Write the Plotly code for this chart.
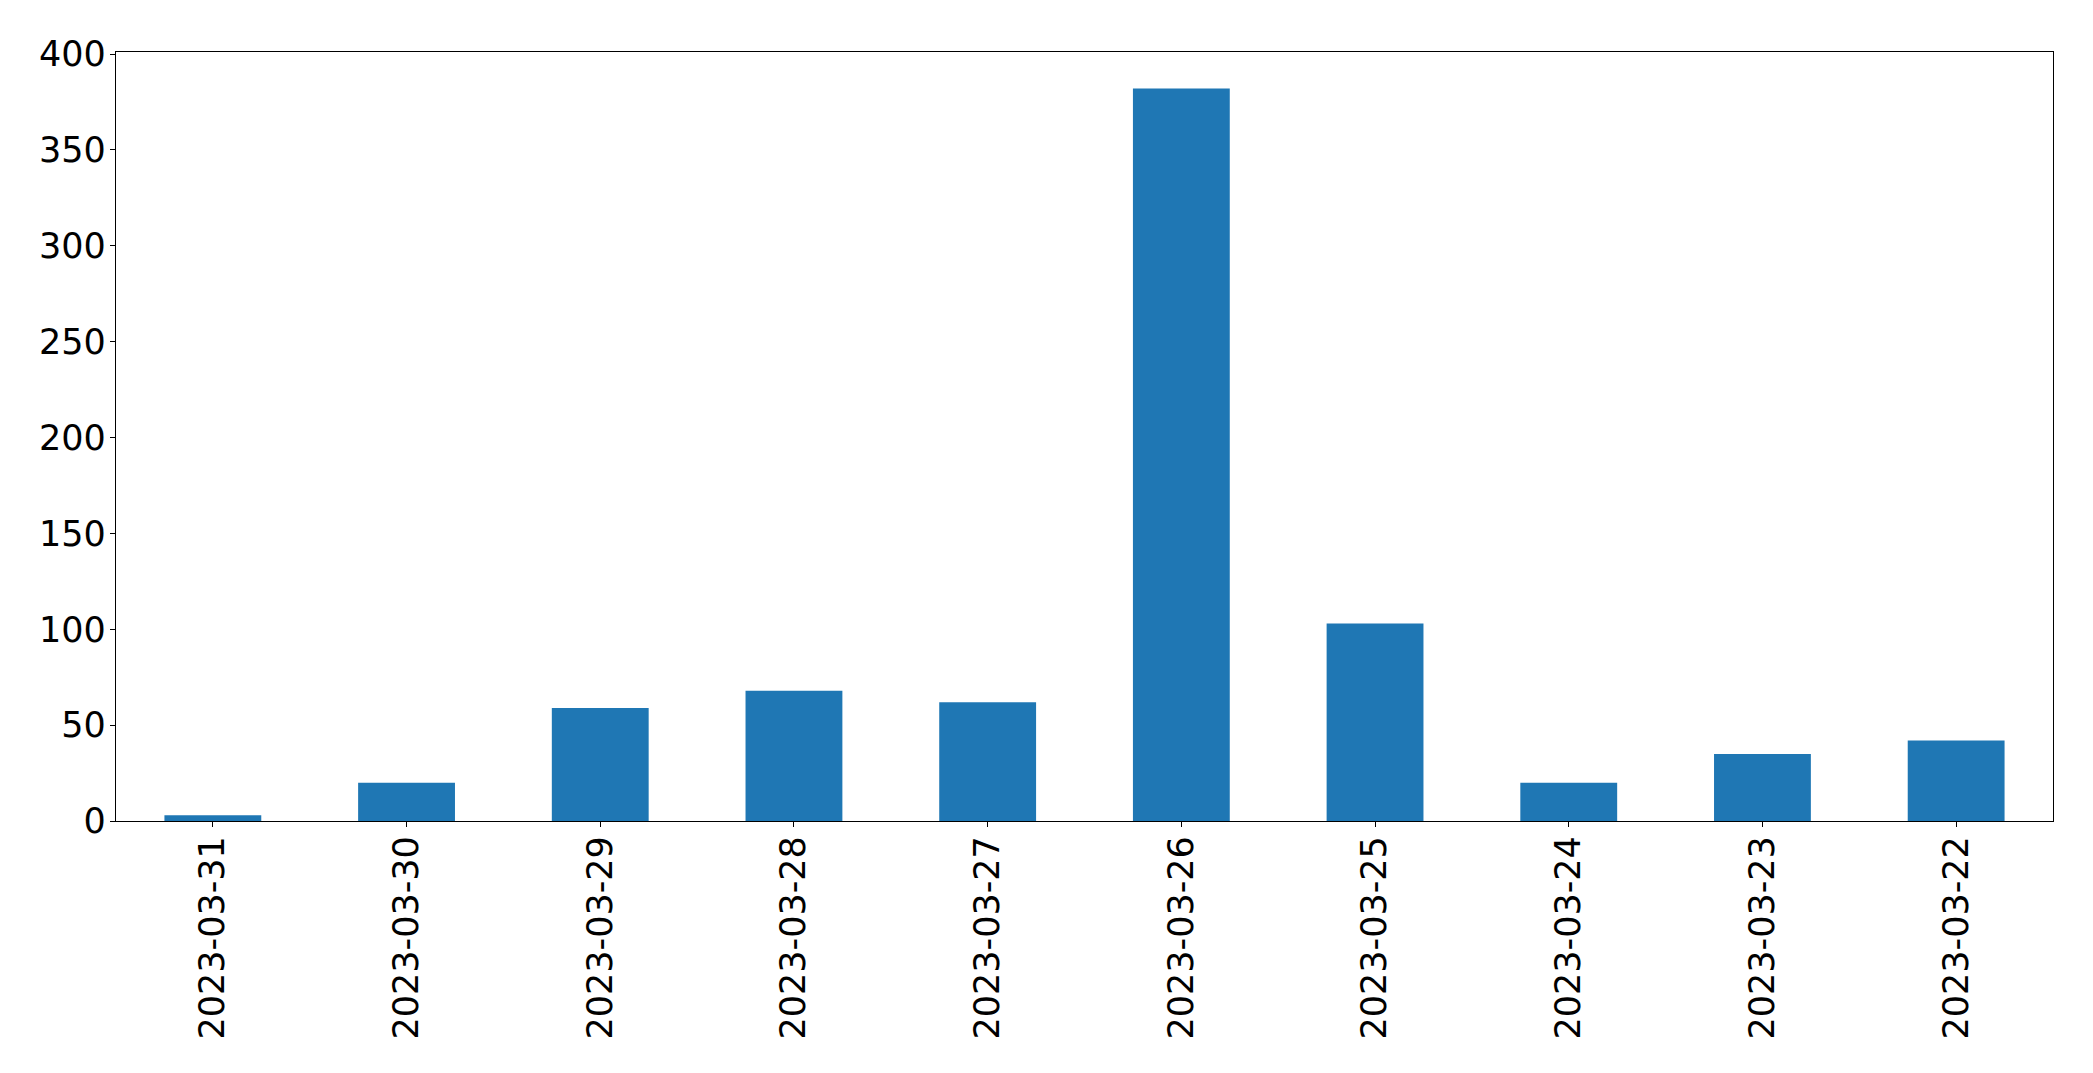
import plotly.graph_objects as go

dates = ["2023-03-31", "2023-03-30", "2023-03-29", "2023-03-28", "2023-03-27",
         "2023-03-26", "2023-03-25", "2023-03-24", "2023-03-23", "2023-03-22"]
counts = [3, 20, 59, 68, 62, 382, 103, 20, 35, 42]
y_ticks = [0, 50, 100, 150, 200, 250, 300, 350, 400]

fig = go.Figure(go.Bar(x=dates, y=counts, marker_color="#1f77b4",
                       marker_line_width=0, width=0.5))

axis_common = dict(showline=True, linecolor="black", linewidth=1.3, mirror=True,
                   ticks="outside", ticklen=5, tickwidth=1.3, tickcolor="black",
                   showgrid=False, zeroline=False,
                   tickfont=dict(family="DejaVu Sans", size=35, color="black"))

fig.update_layout(
    width=2077, height=1057,
    margin=dict(l=108, r=32, t=44, b=244),
    paper_bgcolor="white", plot_bgcolor="white",
    showlegend=False,
    bargap=0.5,
    xaxis=dict(type="category", range=[-0.5, 9.5], tickangle=-90,
               ticklabelstandoff=-5, **axis_common),
    yaxis=dict(range=[0, 401.1], tickvals=y_ticks, ticktext=[str(v) for v in y_ticks],
               ticklabelstandoff=-3, **axis_common),
)

fig.write_html("out.html")
